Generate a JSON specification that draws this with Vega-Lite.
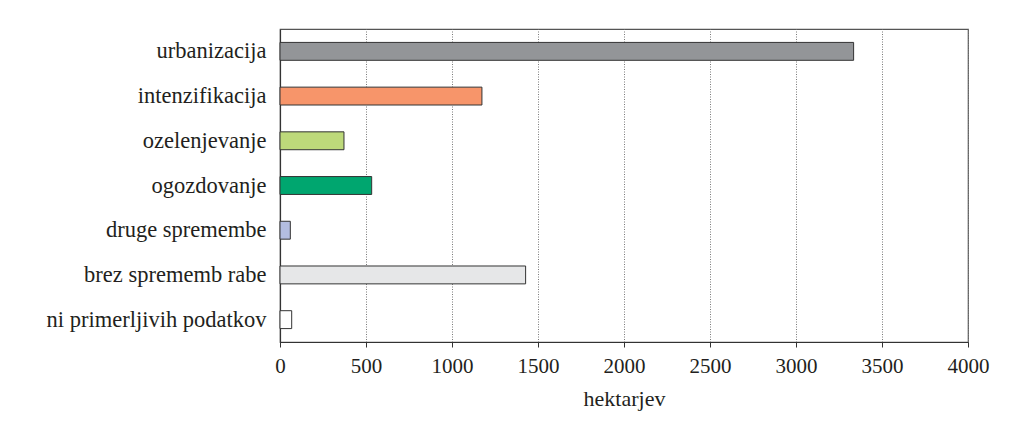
{
  "$schema": "https://vega.github.io/schema/vega-lite/v6.json",
  "autosize": {"type": "none"},
  "padding": {"left": 280, "top": 29, "right": 46, "bottom": 84},
  "width": 688,
  "height": 313,
  "background": "white",
  "config": {
    "view": {"stroke": "#555555", "strokeWidth": 1.2},
    "font": "Liberation Serif",
    "axis": {
      "labelFont": "Liberation Serif",
      "titleFont": "Liberation Serif",
      "labelColor": "#231f20",
      "titleColor": "#231f20",
      "domainColor": "#333333"
    }
  },
  "data": {
    "values": [
      {"raba": "urbanizacija", "ha": 3335, "barva": "#939598"},
      {"raba": "intenzifikacija", "ha": 1174, "barva": "#f7956a"},
      {"raba": "ozelenjevanje", "ha": 372, "barva": "#bdd97a"},
      {"raba": "ogozdovanje", "ha": 533, "barva": "#00a66f"},
      {"raba": "druge spremembe", "ha": 60, "barva": "#b3bde0"},
      {"raba": "brez sprememb rabe", "ha": 1428, "barva": "#e6e7e8"},
      {"raba": "ni primerljivih podatkov", "ha": 68, "barva": "#ffffff"}
    ]
  },
  "mark": {"type": "bar", "stroke": "#333333", "strokeWidth": 1},
  "encoding": {
    "y": {
      "field": "raba",
      "type": "nominal",
      "sort": null,
      "title": null,
      "scale": {"paddingInner": 0.6, "paddingOuter": 0.3},
      "axis": {
        "ticks": false,
        "labelFontSize": 22.5,
        "labelLimit": 300,
        "labelPadding": 14,
        "domainWidth": 1.2
      }
    },
    "x": {
      "field": "ha",
      "type": "quantitative",
      "title": "hektarjev",
      "scale": {"domain": [0, 4000], "nice": false},
      "axis": {
        "values": [0, 500, 1000, 1500, 2000, 2500, 3000, 3500, 4000],
        "format": "d",
        "labelFlush": false,
        "labelOverlap": false,
        "grid": true,
        "gridColor": "#7a7a7a",
        "gridDash": [1, 1.5],
        "gridWidth": 1,
        "tickSize": 5,
        "tickColor": "#333333",
        "labelFontSize": 21,
        "labelPadding": 8,
        "titleFontSize": 22,
        "titleFontWeight": "normal",
        "titlePadding": 12,
        "domainWidth": 1.2
      }
    },
    "color": {"field": "barva", "type": "nominal", "scale": null, "legend": null}
  }
}
